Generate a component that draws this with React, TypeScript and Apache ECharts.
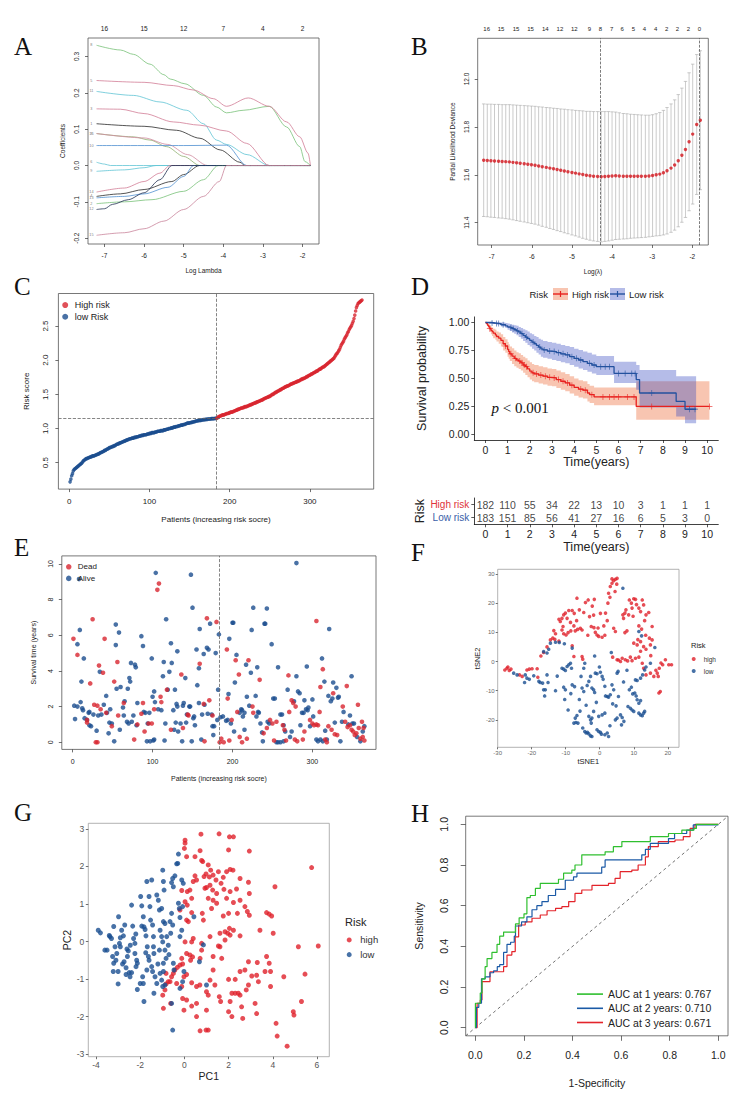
import React, { useEffect, useRef } from "react";
import * as echarts from "echarts";

const SANS = "'Liberation Sans', Arial, Helvetica, sans-serif";
const SERIF = "'Liberation Serif', 'Times New Roman', serif";

// ---------------- Panel A: LASSO coefficient paths ----------------
const aTopPos = [-7, -6, -5, -4, -3, -2];
const aTopLab = [16, 15, 12, 7, 4, 2];
const coefColors = ["#79c179", "#d27c96", "#5fc4d4", "#d27c96", "#2a2a2a", "#8fb070", "#d08aa0", "#4f8fd0",
  "#5fc4d4", "#5fc4d4", "#d27c96", "#2a2a2a", "#4f8fd0", "#79c179", "#1f2f50", "#c9849b"];
const coefIdx = ["8", "5", "11", "3", "1", "16", "7", "10", "6", "9", "14", "4", "13", "2", "12", "15"];
const coefLabelX = -7.33;
const coefPaths = [
  [[-7.2, 0.331], [-6.6, 0.318], [-6.27, 0.306], [-5.85, 0.279], [-5.5, 0.25], [-5.34, 0.238], [-4.97, 0.225], [-4.5, 0.193], [-4.17, 0.161], [-3.92, 0.145], [-3.5, 0.152], [-2.84, 0.163], [-2.4, 0.106], [-2.07, 0.052], [-1.94, 0.011], [-1.8, 0]],
  [[-7.2, 0.234], [-6.0, 0.229], [-5.26, 0.22], [-4.76, 0.208], [-4.25, 0.184], [-3.92, 0.163], [-3.37, 0.186], [-2.84, 0.163], [-2.4, 0.12], [-2.07, 0.079], [-1.86, 0.034], [-1.8, 0]],
  [[-7.2, 0.204], [-6.27, 0.193], [-5.6, 0.175], [-4.92, 0.152], [-4.5, 0.115], [-4.17, 0.07], [-3.92, 0.058], [-3.4, 0.03], [-2.84, 0], [-1.8, 0]],
  [[-7.2, 0.156], [-6.6, 0.155], [-6.0, 0.143], [-5.26, 0.12], [-4.59, 0.111], [-3.92, 0.095], [-3.41, 0.061], [-2.84, 0], [-1.8, 0]],
  [[-7.2, 0.115], [-6.0, 0.108], [-5.18, 0.097], [-4.59, 0.075], [-4.08, 0.043], [-3.58, 0.009], [-3.45, 0], [-1.8, 0]],
  [[-7.2, 0.088], [-6.27, 0.079], [-5.85, 0.07], [-5.43, 0.052], [-5.0, 0.025], [-4.59, 0], [-1.8, 0]],
  [[-7.2, 0.088], [-6.0, 0.076], [-5.4, 0.058], [-4.9, 0.03], [-4.4, 0], [-1.8, 0]],
  [[-7.2, 0.055], [-5.0, 0.055], [-3.92, 0.056], [-3.41, 0], [-1.8, 0]],
  [[-7.2, 0.009], [-7.0, 0.004], [-6.85, 0], [-1.8, 0]],
  [[-7.2, -0.016], [-6.5, -0.012], [-6.0, -0.006], [-5.7, 0], [-1.8, 0]],
  [[-7.2, -0.073], [-6.5, -0.062], [-6.0, -0.044], [-5.6, -0.021], [-5.35, 0], [-1.8, 0]],
  [[-7.2, -0.085], [-6.6, -0.078], [-6.0, -0.066], [-5.3, -0.044], [-5.0, -0.025], [-4.6, 0], [-1.8, 0]],
  [[-7.2, -0.089], [-6.5, -0.085], [-6.0, -0.078], [-5.4, -0.06], [-5.0, -0.03], [-4.75, 0], [-1.8, 0]],
  [[-7.2, -0.105], [-6.5, -0.1], [-5.8, -0.094], [-5.0, -0.071], [-4.5, -0.039], [-4.13, 0], [-1.8, 0]],
  [[-7.2, -0.121], [-7.0, -0.119], [-6.8, -0.107], [-6.4, -0.094], [-6.0, -0.075], [-5.6, -0.039], [-5.3, 0], [-1.8, 0]],
  [[-7.2, -0.192], [-6.5, -0.185], [-6.0, -0.174], [-5.5, -0.153], [-5.0, -0.121], [-4.5, -0.085], [-4.1, -0.044], [-3.92, 0], [-1.8, 0]],
];

// ---------------- Panel B: cross-validation ----------------
const lambdaB = [-7.20, -7.11, -7.02, -6.93, -6.83, -6.74, -6.65, -6.56, -6.47, -6.38, -6.29, -6.19, -6.10, -6.01, -5.92,
  -5.83, -5.74, -5.64, -5.55, -5.46, -5.37, -5.28, -5.19, -5.10, -5.00, -4.91, -4.82, -4.73, -4.64, -4.55, -4.46, -4.36,
  -4.27, -4.18, -4.09, -4.00, -3.91, -3.82, -3.72, -3.63, -3.54, -3.45, -3.36, -3.27, -3.17, -3.08, -2.99, -2.90, -2.81,
  -2.72, -2.63, -2.53, -2.44, -2.35, -2.26, -2.17, -2.08, -1.99, -1.89, -1.80];
const cvmB = [11.661, 11.660, 11.659, 11.658, 11.657, 11.656, 11.655, 11.654, 11.652, 11.650, 11.648, 11.646, 11.644,
  11.642, 11.640, 11.637, 11.634, 11.631, 11.628, 11.625, 11.622, 11.619, 11.616, 11.613, 11.610, 11.607, 11.604, 11.601,
  11.598, 11.596, 11.594, 11.593, 11.592, 11.593, 11.594, 11.595, 11.596, 11.595, 11.594, 11.594, 11.594, 11.594, 11.594,
  11.594, 11.594, 11.595, 11.597, 11.600, 11.603, 11.609, 11.617, 11.628, 11.641, 11.659, 11.682, 11.706, 11.738, 11.770,
  11.810, 11.828];
const cvsdB = [0.235, 0.235, 0.236, 0.236, 0.237, 0.237, 0.238, 0.239, 0.240, 0.241, 0.242, 0.243, 0.244, 0.245, 0.246,
  0.247, 0.249, 0.250, 0.252, 0.253, 0.255, 0.256, 0.258, 0.259, 0.261, 0.262, 0.264, 0.266, 0.267, 0.269, 0.270, 0.271,
  0.272, 0.271, 0.270, 0.268, 0.266, 0.264, 0.262, 0.261, 0.259, 0.258, 0.257, 0.256, 0.255, 0.254, 0.254, 0.255, 0.257,
  0.260, 0.264, 0.268, 0.272, 0.276, 0.280, 0.284, 0.288, 0.292, 0.292, 0.290];
const bTopPos = [-7.125, -6.767, -6.393, -6.03, -5.664, -5.299, -4.94, -4.566, -4.292, -4.01, -3.745, -3.47, -3.196, -2.914, -2.64, -2.37, -2.096, -1.82];
const bTopLab = [16, 15, 15, 15, 14, 12, 12, 9, 8, 7, 6, 5, 4, 4, 2, 2, 2, 0];
const bLambdaMin = -4.29;
const bLambda1se = -1.82;

// ---------------- Panel C: risk score ----------------
const riskLow = [
  0.22, 0.26, 0.31, 0.34, 0.38, 0.40, 0.41, 0.42, 0.43, 0.44,
  0.45, 0.46, 0.47, 0.48, 0.49, 0.50, 0.52, 0.53, 0.54, 0.55,
  0.56, 0.56, 0.57, 0.57, 0.58, 0.58, 0.59, 0.59, 0.60, 0.60,
  0.60, 0.61, 0.61, 0.62, 0.62, 0.63, 0.63, 0.64, 0.65, 0.65,
  0.66, 0.66, 0.67, 0.68, 0.68, 0.69, 0.70, 0.70, 0.71, 0.72,
  0.72, 0.73, 0.73, 0.74, 0.74, 0.75, 0.75, 0.76, 0.77, 0.77,
  0.78, 0.78, 0.79, 0.79, 0.80, 0.80, 0.81, 0.81, 0.82, 0.82,
  0.83, 0.83, 0.84, 0.84, 0.85, 0.85, 0.85, 0.86, 0.86, 0.86,
  0.87, 0.87, 0.87, 0.88, 0.88, 0.88, 0.89, 0.89, 0.89, 0.90,
  0.90, 0.90, 0.91, 0.91, 0.91, 0.91, 0.92, 0.92, 0.92, 0.93,
  0.93, 0.93, 0.94, 0.94, 0.94, 0.94, 0.95, 0.95, 0.95, 0.96,
  0.96, 0.96, 0.96, 0.97, 0.97, 0.97, 0.97, 0.98, 0.98, 0.98,
  0.99, 0.99, 0.99, 1.00, 1.00, 1.00, 1.01, 1.01, 1.01, 1.02,
  1.02, 1.02, 1.03, 1.03, 1.03, 1.04, 1.04, 1.04, 1.05, 1.05,
  1.05, 1.06, 1.06, 1.06, 1.07, 1.07, 1.08, 1.08, 1.08, 1.085,
  1.085, 1.09, 1.09, 1.095, 1.10, 1.10, 1.105, 1.11, 1.11, 1.115,
  1.115, 1.12, 1.12, 1.12, 1.125, 1.125, 1.13, 1.13, 1.13, 1.135,
  1.135, 1.135, 1.14, 1.14, 1.14, 1.14, 1.145, 1.145, 1.145, 1.145,
  1.147, 1.148, 1.149];
const riskHigh = [
  1.15, 1.16, 1.17, 1.18, 1.18, 1.19, 1.19,
  1.20, 1.20, 1.20, 1.21, 1.21, 1.22, 1.22, 1.22, 1.23, 1.23,
  1.24, 1.24, 1.24, 1.25, 1.25, 1.26, 1.26, 1.27, 1.27, 1.28,
  1.28, 1.29, 1.29, 1.30, 1.30, 1.30, 1.31, 1.31, 1.32, 1.32,
  1.32, 1.33, 1.33, 1.34, 1.34, 1.35, 1.35, 1.36, 1.36, 1.37,
  1.37, 1.38, 1.38, 1.39, 1.39, 1.40, 1.40, 1.41, 1.41, 1.42,
  1.42, 1.43, 1.44, 1.44, 1.45, 1.45, 1.46, 1.46, 1.47, 1.47,
  1.48, 1.49, 1.50, 1.50, 1.51, 1.52, 1.53, 1.53, 1.54, 1.55,
  1.55, 1.56, 1.57, 1.57, 1.58, 1.59, 1.59, 1.60, 1.61, 1.61,
  1.62, 1.62, 1.63, 1.63, 1.64, 1.65, 1.65, 1.66, 1.66, 1.67,
  1.67, 1.68, 1.68, 1.69, 1.69, 1.70, 1.70, 1.71, 1.72, 1.72,
  1.73, 1.73, 1.74, 1.74, 1.75, 1.76, 1.76, 1.77, 1.78, 1.78,
  1.79, 1.80, 1.80, 1.81, 1.82, 1.82, 1.83, 1.84, 1.84, 1.85,
  1.86, 1.87, 1.87, 1.88, 1.89, 1.90, 1.90, 1.91, 1.92, 1.93,
  1.94, 1.95, 1.96, 1.97, 1.98, 1.99, 2.00, 2.01, 2.02, 2.03,
  2.05, 2.07, 2.09, 2.10, 2.12, 2.14, 2.16, 2.19, 2.22, 2.24,
  2.26, 2.28, 2.31, 2.33, 2.35, 2.37, 2.40, 2.42, 2.45, 2.47,
  2.49, 2.51, 2.54, 2.57, 2.61, 2.66, 2.72, 2.77, 2.80, 2.83,
  2.84, 2.85, 2.86, 2.87, 2.88];
const riskCutoff = 1.149;
const riskCutIndex = 183.5;

// ---------------- Panel D: Kaplan-Meier ----------------
const highT = [0, 0.05, 0.1, 0.15, 0.2, 0.25, 0.3, 0.35, 0.45, 0.5, 0.6, 0.7, 0.8, 0.9, 1.0, 1.05, 1.1, 1.2, 1.3, 1.4, 1.5, 1.6, 1.7, 1.8, 1.9, 2.0, 2.1, 2.2, 2.4, 2.6, 2.8, 3.0, 3.2, 3.4, 3.6, 3.8, 4.0, 4.2, 4.4, 4.6, 4.7, 4.9, 6.8, 10.1];
const highS = [1.0, 0.99, 0.975, 0.96, 0.945, 0.93, 0.92, 0.905, 0.89, 0.875, 0.86, 0.84, 0.81, 0.79, 0.76, 0.74, 0.72, 0.70, 0.68, 0.665, 0.655, 0.64, 0.62, 0.605, 0.585, 0.565, 0.55, 0.54, 0.53, 0.52, 0.51, 0.505, 0.49, 0.475, 0.46, 0.44, 0.42, 0.405, 0.395, 0.37, 0.355, 0.335, 0.25, 0.25];
const highU = [1.0, 1.0, 0.99, 0.985, 0.975, 0.965, 0.955, 0.945, 0.935, 0.92, 0.91, 0.895, 0.87, 0.85, 0.825, 0.805, 0.785, 0.77, 0.75, 0.735, 0.725, 0.71, 0.695, 0.68, 0.66, 0.645, 0.63, 0.62, 0.61, 0.60, 0.59, 0.585, 0.57, 0.555, 0.54, 0.52, 0.50, 0.485, 0.475, 0.45, 0.435, 0.42, 0.475, 0.475];
const highL = [1.0, 0.975, 0.955, 0.935, 0.915, 0.895, 0.88, 0.86, 0.845, 0.83, 0.81, 0.785, 0.75, 0.73, 0.695, 0.675, 0.655, 0.63, 0.61, 0.595, 0.585, 0.57, 0.55, 0.53, 0.51, 0.49, 0.475, 0.465, 0.455, 0.445, 0.435, 0.43, 0.415, 0.40, 0.385, 0.365, 0.345, 0.33, 0.32, 0.295, 0.28, 0.26, 0.13, 0.13];
const lowT = [0, 0.3, 0.5, 0.7, 0.9, 1.0, 1.1, 1.2, 1.3, 1.4, 1.5, 1.6, 1.7, 1.8, 1.9, 2.0, 2.1, 2.2, 2.3, 2.4, 2.5, 2.6, 2.8, 3.0, 3.2, 3.4, 3.6, 3.8, 4.0, 4.2, 4.4, 4.6, 4.8, 5.0, 5.8, 6.8, 6.95, 8.6, 9.0, 9.5];
const lowS = [1.0, 0.995, 0.99, 0.98, 0.97, 0.96, 0.955, 0.945, 0.935, 0.925, 0.915, 0.90, 0.885, 0.87, 0.855, 0.84, 0.825, 0.81, 0.795, 0.78, 0.765, 0.755, 0.745, 0.74, 0.73, 0.72, 0.71, 0.695, 0.68, 0.665, 0.65, 0.635, 0.62, 0.605, 0.545, 0.49, 0.37, 0.295, 0.225, 0.225];
const lowU = [1.0, 1.0, 1.0, 1.0, 0.995, 0.99, 0.985, 0.98, 0.975, 0.97, 0.96, 0.95, 0.94, 0.93, 0.92, 0.905, 0.895, 0.88, 0.87, 0.855, 0.845, 0.835, 0.825, 0.82, 0.81, 0.80, 0.79, 0.78, 0.765, 0.755, 0.74, 0.73, 0.715, 0.70, 0.65, 0.62, 0.575, 0.52, 0.52, 0.52];
const lowL = [1.0, 0.99, 0.98, 0.965, 0.95, 0.935, 0.925, 0.91, 0.9, 0.885, 0.87, 0.855, 0.835, 0.82, 0.80, 0.785, 0.765, 0.75, 0.73, 0.715, 0.695, 0.685, 0.675, 0.665, 0.655, 0.645, 0.635, 0.62, 0.605, 0.59, 0.575, 0.56, 0.545, 0.53, 0.46, 0.40, 0.24, 0.16, 0.10, 0.10];
const highCens = [0.2, 0.9, 1.15, 1.35, 1.55, 1.65, 1.75, 1.85, 2.15, 2.3, 2.5, 2.7, 2.9, 3.1, 3.3, 3.5, 3.7, 3.9, 4.3, 4.5, 4.8, 5.3, 5.6, 5.8, 6.0, 6.4, 6.7, 7.5, 10.1];
const lowCens = [0.3, 0.5, 0.6, 0.8, 1.15, 1.25, 1.45, 1.65, 1.85, 2.15, 2.45, 2.65, 2.9, 3.1, 3.3, 3.5, 3.7, 3.9, 4.1, 4.3, 4.7, 4.9, 5.2, 5.4, 5.6, 6.0, 6.3, 6.6, 6.75, 7.5, 9.2, 9.45];
const tableTimes = [0, 1, 2, 3, 4, 5, 6, 7, 8, 9, 10];
const highN = [182, 110, 55, 34, 22, 13, 10, 3, 1, 1, 1];
const lowN = [183, 151, 85, 56, 41, 27, 16, 6, 5, 3, 0];

// ---------------- Panel E: survival status ----------------
const deadE = [[1, 5.8], [6, 4.9], [18, 1.25], [18, 1.1], [22, 3.3], [25, 6.9], [27, 2.1], [29, 0], [31, 0], [31, 2.05], [33, 4.3], [35, 1.85], [38, 3.9], [40, 5.8], [42, 1.65], [49, 0.9], [52, 3.4], [56, 4.5], [57, 1.5], [64, 2.2], [77, 0.15], [81, 1.0], [86, 1.6], [88, 2.2], [90, 0.6], [95, 1.05], [99, 1.05], [102, 1.85], [106, 8.55], [108, 8.9], [110, 2.55], [111, 2.25], [118, 2.95], [123, 0.7], [136, 3.8], [138, 0.8], [144, 1.55], [145, 1.5], [159, 4.4], [164, 2.15], [165, 0.05], [168, 6.95], [171, 2.35], [175, 1.5], [180, 6.75], [184, 0], [186, 0.2], [189, 0], [193, 5.2], [194, 2.45], [196, 0.1], [199, 1.25], [204, 4.6], [206, 1.7], [208, 3.8], [209, 0.3], [212, 0], [218, 0.2], [220, 4.6], [225, 2.0], [226, 1.65], [234, 3.5], [239, 0.5], [243, 0.8], [247, 1.25], [250, 1.05], [252, 0.1], [255, 1.15], [263, 0.95], [265, 0.7], [267, 0.1], [270, 3.75], [271, 1.7], [274, 2.35], [276, 2.2], [278, 0.15], [279, 2.0], [281, 0.05], [288, 0.15], [290, 0.6], [297, 1.25], [300, 1.05], [302, 0.95], [305, 1.0], [305, 6.8], [307, 0.95], [309, 1.7], [310, 3.1], [313, 4.1], [316, 0.15], [318, 0], [320, 0.9], [324, 0.7], [326, 2.75], [328, 0.45], [331, 0.4], [338, 2.0], [341, 1.15], [343, 3.15], [344, 0.85], [347, 0.95], [349, 0.7], [351, 0.6], [353, 0.4], [355, 0.5], [357, 2.1], [358, 0.8], [360, 0.2], [362, 1.15], [363, 0.3], [364, 0.8], [365, 0.1]];
const aliveE = [[2, 2.05], [6, 2.0], [3, 1.3], [6, 5.5], [8, 9.15], [9, 6.3], [10, 2.25], [11, 3.4], [12, 1.9], [13, 1.8], [14, 4.7], [15, 1.35], [18, 1.25], [20, 1.65], [21, 1.7], [21, 0.95], [23, 0.9], [26, 1.55], [30, 0.65], [32, 1.5], [34, 3.95], [36, 1.55], [39, 2.1], [42, 2.6], [43, 1.65], [45, 0.5], [47, 1.85], [46, 1.1], [49, 1.05], [52, 0.05], [54, 6.6], [54, 5.45], [55, 3.0], [58, 6.15], [59, 0.7], [60, 3.1], [63, 1.95], [64, 1.5], [65, 2.3], [68, 1.15], [70, 1.05], [69, 3.0], [71, 3.6], [72, 3.4], [73, 4.45], [74, 1.15], [76, 1.5], [78, 4.35], [79, 4.2], [80, 0.95], [81, 2.2], [86, 5.95], [88, 5.4], [89, 1.7], [91, 1.65], [93, 0.05], [94, 1.05], [96, 1.65], [97, 0.05], [99, 4.7], [100, 2.55], [101, 0.1], [102, 0.15], [103, 2.25], [104, 9.5], [102, 2.85], [107, 1.85], [111, 1.8], [113, 3.7], [114, 4.5], [115, 0.1], [116, 1.05], [117, 6.9], [119, 2.95], [121, 3.95], [123, 5.55], [124, 4.45], [126, 1.8], [127, 0.7], [128, 2.95], [129, 1.1], [130, 2.15], [131, 2.0], [131, 5.1], [132, 0.6], [135, 1.05], [137, 0.05], [138, 2.05], [139, 2.2], [141, 3.6], [142, 1.1], [143, 1.55], [146, 2.0], [147, 2.0], [148, 9.4], [149, 0.05], [150, 7.55], [151, 1.35], [152, 1.45], [153, 0.95], [155, 5.2], [156, 3.2], [158, 2.2], [158, 4.15], [159, 6.35], [161, 0.15], [162, 1.55], [164, 4.95], [165, 2.1], [168, 5.3], [169, 1.6], [170, 5.2], [172, 6.65], [174, 1.55], [175, 0.9], [176, 0.4], [177, 0.9], [179, 5.0], [181, 1.25], [182, 2.95], [183, 6.05], [185, 1.4], [188, 1.45], [192, 1.2], [194, 1.25], [195, 2.7], [196, 5.8], [198, 1.05], [200, 6.7], [201, 6.7], [202, 0.6], [203, 3.35], [205, 4.9], [209, 1.65], [211, 1.85], [212, 1.8], [213, 1.45], [215, 1.65], [215, 0.7], [217, 4.35], [218, 2.55], [221, 2.05], [223, 3.9], [224, 6.3], [226, 7.55], [229, 2.6], [230, 1.45], [232, 1.7], [233, 1.65], [231, 4.2], [235, 1.05], [237, 0.55], [238, 0.05], [240, 6.65], [241, 6.65], [243, 7.5], [244, 1.15], [246, 1.05], [249, 5.5], [251, 2.45], [253, 2.45], [255, 0], [257, 0], [260, 0], [257, 4.2], [260, 1.55], [262, 1.55], [264, 0.95], [264, 0.05], [266, 0.6], [269, 2.95], [272, 0.3], [274, 0.6], [277, 2.3], [280, 3.7], [280, 10.05], [282, 2.85], [284, 2.75], [285, 0.95], [287, 1.65], [289, 1.65], [290, 2.35], [292, 1.85], [294, 1.8], [293, 4.25], [295, 1.95], [297, 0.9], [300, 2.4], [301, 1.45], [305, 0.15], [307, 0.05], [310, 0.15], [313, 0.05], [312, 4.7], [315, 3.4], [316, 0.65], [318, 0.15], [320, 2.6], [321, 6.35], [323, 2.3], [325, 2.45], [326, 3.35], [328, 1.1], [330, 3.05], [332, 2.5], [333, 2.55], [335, 0.05], [337, 1.15], [339, 1.7], [345, 1.0], [347, 1.5], [349, 3.7], [350, 1.05], [352, 1.05], [356, 0.3], [360, 0.05], [363, 0.6], [365, 0.9]];
const eCutIndex = 183;

// ---------------- Panel F: t-SNE ----------------
const tsneHigh = [[-27.9, -2.9], [-27.3, -2.3], [-26.6, -3.1], [-27, -1.9], [-26.1, -2.6], [-23.6, -4.6], [-22.8, -5.1], [-21.4, -2.9], [-20.7, -2.6], [-19.9, -2.5], [-18.4, -2.5], [-18.2, -5.4], [-17.3, 1.9], [-16.5, 3.1], [-14.5, 7.4], [-13.8, 8.0], [-13.2, 7.6], [-13.5, 10.6], [-13, 9.5], [-11.6, 13.7], [-11.1, 14.8], [-10.6, 16], [-10.1, 16.6], [-9.6, 14.8], [-9.1, 17.5], [-11.1, 10.8], [-10.6, 9.5], [-9.9, 9.1], [-9.3, 9.9], [-8.6, 13.4], [-8.1, 17.5], [-7.6, 12.2], [-7.2, 10.5], [-6.7, 21.7], [-6, 17.7], [-5.7, 11.4], [-5.2, 10.8], [-4.7, 16.8], [-4.2, 20.2], [-3.4, 21.1], [-3, 15.4], [-1.6, 21.3], [-1.8, 15.9], [-1.7, 11.6], [-1.3, 10], [-0.8, 9.1], [-0.3, 8.6], [0.7, 8.3], [1.2, 12.2], [1.7, 16.6], [2.4, 20], [2.6, 23.4], [3.1, 25.7], [3.6, 26.8], [4.1, 27.7], [4.6, 28.2], [5.1, 28.5], [3.6, 28.3], [4.1, 11.4], [4.6, 10.3], [6.8, 16], [7.4, 16.6], [7.7, 17.7], [7, 14.8], [7.4, 9.9], [8, 10.5], [8.7, 21.1], [9.3, 20], [9.5, 18.3], [10, 21.5], [10.5, 21.3], [11.5, 18.3], [12, 17.1], [12.5, 21.1], [12.9, 19.4], [13.6, 16], [14.4, 16.8], [11.5, 12.2], [12.3, 11.1], [10, 6.3], [11, 5.7], [12, 6.8], [12.9, 5.1], [13.6, 4.2], [14.6, 8], [14.9, 5.7], [15.4, 7.4], [15.4, 12], [6.6, 1.1], [7.5, 0.6], [8.2, 0.2], [9, 1.5], [10.5, 1.1], [11.5, 1.5], [12.5, -0.6], [12.9, -2.3], [13.6, -4.6], [14.9, -4], [15.9, -5.1], [16.9, -4], [17.5, -2.3], [18.5, -1.1], [19.3, 0.6], [20.3, -1.1], [21.1, -1.1], [17.2, -5.1], [17.8, -10.3], [17.4, -10.8], [-8.1, 5.4], [-7.6, 1.7], [-5.2, 1.7], [-5, 0.8], [3.8, 1.5], [5.1, 0.6], [6.1, 0], [-12, 14.5], [-10.8, 12], [-8.5, 10.5], [-6.5, 11], [-2.5, 12], [-0.5, 11.5], [0.2, 16.5], [3, 22], [4.5, 24], [5, 26.5], [8.5, 16], [9.8, 15.5], [10.8, 19.5], [13.2, 14], [11.2, 7.5], [13.5, 9], [16.5, -3], [18, -0.5], [-15.5, 5], [-12, 7], [9.5, 0.3], [5.5, 0.5], [-3.5, 9], [1.5, 9], [2.2, 14], [-6.8, 14], [-7.5, 16.5], [-2.2, 19], [12, 3.5], [15, 2]];
const tsneLow = [[-25.3, -4], [-24.3, -4.6], [-21.9, -4.6], [-21.4, -5.7], [-22.1, -7.2], [-20.7, -6.1], [-19.4, -4.9], [-17.9, -6.8], [-17.5, -7.2], [-16.8, -7.4], [-16.5, -9.7], [-16.2, -11.8], [-16, -9.7], [-15.5, -4.6], [-15.2, -7.2], [-16.5, 3.4], [-15.5, 2.9], [-15, 4.2], [-14.5, 6.3], [-13, 6.6], [-11.9, 6.5], [-11.1, -2.3], [-10.6, -2.6], [-10.1, -3.1], [-9.6, -1.7], [-9.1, -1.1], [-8.6, -0.6], [-8.3, -2.3], [-10.4, 6.1], [-10.6, -8.8], [-10.1, -9.7], [-10.3, -13], [-9.3, -16.6], [-8.1, -8], [-7.4, -8.6], [-8.1, 4.6], [-7.2, -19.4], [-6.7, -18.5], [-7, -20.9], [-6.4, -21.1], [-7.6, -21.1], [-5.5, -5.1], [-5.2, -9.1], [-4.7, -10.3], [-4.4, -0.6], [-4.7, -2.3], [-5, -22.8], [-4.4, -24], [-4, -24.5], [-3.6, -24.3], [-3.2, -24.8], [-2.7, -25.5], [-2.3, -25.7], [-3.2, -18.8], [-2.7, -20], [-2.3, -19.4], [-1.8, -17.1], [-2.5, -21.1], [-3.7, -8.2], [-3.2, -6.8], [-2.7, -5.1], [-2.3, -9.1], [-1.8, -9.7], [-1.5, -10.6], [-1.5, 1.9], [-1.3, -4], [-0.8, -4.2], [-0.1, -1.9], [0.2, -3.7], [0.7, -5.1], [1, -6.1], [-0.8, -23.4], [-0.3, -24], [0.2, -24.3], [0.5, -24.9], [1.5, -25.1], [2.2, -24.5], [2.6, -25.7], [-0.3, -18.8], [0.7, -18.3], [1.5, -17.7], [1.7, -11.8], [2.2, -12], [2.6, -12.2], [3.1, -11.4], [3.6, -8], [4.1, -9.7], [3.8, -14.5], [3.4, 3.1], [4.6, -20], [5.1, -19.4], [6.1, -18.3], [6.6, -19.2], [7.1, -20.5], [6.4, -21.7], [5.1, -4], [5.4, -3.4], [4.8, -15.2], [6.8, 25.1], [8.7, -9.7], [9.3, -8.8], [9.7, -11.1], [10.3, -10.8], [10.7, -11.8], [11, -13.1], [11.5, -14.3], [8.3, -15.4], [9, -16], [9.5, -16.6], [10, -17.1], [11.5, -17.7], [12, -18.3], [12.5, -18.6], [12.9, -17.7], [13.2, -17.1], [10.5, -6.3], [11, -6.5], [12, -5.7], [12.6, -4.6], [13.2, -2.9], [13.6, -1.9], [11.5, 10.3], [12.3, 8.8], [14.9, -0.6], [16.2, 4.8], [12, -13.4], [-12.5, -5], [-6, -13], [-8.5, -11], [-1, -14], [1.5, -8.5], [5.5, -12], [7, -7], [-13, -10], [-4, -15], [3, -22], [-5.8, -17], [8, -3]];

// ---------------- Panel G: PCA ----------------
const pcaHigh = [[0.03, 2.7], [0.03, 2.62], [0.0, 2.48], [0.1, 2.26], [0.48, 2.26], [0.75, 2.86], [0.78, 2.16], [0.83, 2.13], [0.71, 2.42], [1.08, 2.04], [1.19, 1.9], [1.16, 1.5], [1.57, 2.87], [1.54, 1.86], [2.04, 2.79], [2.22, 2.79], [2.0, 2.44], [2.07, 1.92], [2.2, 1.9], [1.91, 1.86], [1.76, 1.71], [2.94, 2.41], [2.9, 1.58], [2.94, 1.28], [2.36, 1.4], [2.07, 1.33], [1.91, 1.15], [1.28, 1.37], [1.46, 1.28], [0.13, 1.33], [0.25, 1.37], [0.33, 1.15], [0.03, 1.06], [0.13, 0.97], [0.4, 1.6], [0.48, 1.75], [0.55, 1.64], [0.89, 1.73], [0.93, 1.42], [1.0, 1.44], [1.08, 1.15], [1.3, 1.1], [1.23, 0.88], [1.46, 1.02], [0.81, 0.75], [0.86, 0.57], [0.1, 0.57], [0.18, 0.53], [0.33, 0.77], [-0.2, 0.84], [-0.12, 1.36], [1.76, 0.68], [2.0, 0.75], [2.22, 1.04], [2.4, 0.75], [2.52, 1.1], [2.74, 0.93], [2.94, 0.7], [2.85, 0.8], [1.84, 0.26], [1.96, 0.22], [2.04, 0.35], [2.07, 0.17], [2.22, 0.3], [2.52, 0.15], [1.61, 0.22], [1.84, 0.04], [1.54, -0.12], [1.61, -0.14], [0.78, -0.05], [0.78, -0.23], [0.71, -0.45], [0.4, 0.08], [0.33, -0.01], [0.37, -0.41], [0.03, -0.01], [0.1, -0.32], [0.25, -0.36], [0.28, -0.5], [-0.12, -0.45], [-0.08, -0.6], [-0.2, -0.63], [-0.32, -0.69], [-0.43, -0.76], [-0.5, -0.85], [-0.58, -0.94], [-0.65, -1.07], [-0.83, -0.85], [-0.73, -1.07], [-0.83, -1.13], [-0.88, -1.29], [-0.98, -1.43], [-0.95, -1.78], [-0.62, -1.65], [-0.35, -1.12], [-0.12, -1.2], [-0.02, -0.94], [0.1, -0.88], [-0.08, -1.52], [-0.02, -1.83], [0.1, -1.56], [0.33, -1.72], [0.55, -1.65], [0.33, -1.1], [0.55, -1.2], [0.7, -1.16], [1.0, -1.34], [1.08, -1.43], [1.0, -1.83], [0.98, -2.36], [1.08, -2.36], [0.71, -2.38], [0.55, -2.0], [1.58, -1.47], [1.64, -1.6], [1.69, -0.45], [1.3, -0.76], [1.16, -1.03], [1.38, -1.16], [2.0, -1.01], [2.07, -1.6], [2.0, -1.87], [2.15, -2.0], [2.3, -1.01], [2.52, -0.8], [2.74, -0.76], [2.15, -1.38], [2.3, -1.38], [2.44, -1.38], [2.52, -1.43], [2.59, -1.74], [2.64, -2.05], [2.8, -1.29], [2.9, -1.16], [3.05, -0.92], [2.9, -0.54], [3.3, -0.56], [3.27, -0.9], [3.35, -1.07], [3.2, -1.65], [3.27, -1.92], [3.42, 0.3], [3.72, 0.77], [3.84, 0.73], [3.95, 0.68], [4.02, 0.22], [3.72, -0.4], [3.84, -0.58], [3.9, -0.8], [3.65, -0.8], [3.9, -1.2], [4.1, 1.46], [4.5, -0.94], [4.15, -2.18], [4.2, -2.52], [4.65, -2.79], [4.93, -1.87], [4.96, -1.96], [5.16, -0.14], [5.3, -1.6], [5.46, -0.87], [5.76, 1.97], [6.06, -0.12], [1.16, 0.13], [1.3, -0.4], [0.98, 1.8], [1.13, 1.72], [1.3, 1.77], [1.43, 1.64], [1.66, 1.55], [1.79, 1.39], [2.52, 1.68]];
const pcaLow = [[-3.9, 0.3], [-3.8, 0.23], [-3.6, -0.23], [-3.5, -0.23], [-3.4, 0.16], [-3.37, 0.13], [-3.3, 0.08], [-3.25, -0.4], [-3.2, -0.58], [-3.22, -0.8], [-3.0, -0.8], [-3.0, -1.13], [-2.98, 0.66], [-2.94, -0.05], [-2.9, -0.14], [-3.2, 0.4], [-3.14, -0.14], [-3.06, -0.32], [-2.84, 0.3], [-2.76, 0.15], [-2.7, 0.44], [-2.6, -0.2], [-2.54, -0.25], [-2.58, -0.4], [-2.73, -0.54], [-2.64, -0.7], [-2.5, -0.83], [-2.64, -0.88], [-2.46, -0.94], [-2.39, -0.83], [-2.39, 0.97], [-2.34, 0.41], [-2.3, 0.08], [-2.24, -0.05], [-2.24, -0.32], [-2.16, -0.5], [-2.13, -0.58], [-2.19, -0.67], [-2.13, -1.28], [-2.0, -1.12], [-1.89, -0.94], [-1.98, 1.2], [-1.93, 0.95], [-1.86, 0.66], [-1.93, 0.41], [-1.83, 0.39], [-1.78, 0.32], [-1.74, 0.15], [-1.7, 1.6], [-1.68, -0.14], [-1.63, -0.4], [-1.7, -0.76], [-1.86, -1.12], [-1.83, -1.6], [-1.6, 1.2], [-1.56, 0.93], [-1.48, 1.64], [-1.53, 0.57], [-1.44, 0.44], [-1.4, 0.13], [-1.4, -0.14], [-1.38, -0.32], [-1.48, -0.67], [-1.44, -0.8], [-1.33, -0.94], [-1.25, -1.12], [-1.38, -1.38], [-1.25, 1.24], [-1.18, 1.1], [-1.13, 0.84], [-1.1, 0.3], [-1.03, 0.13], [-1.13, -0.23], [-0.98, 1.9], [-0.95, 1.6], [-0.92, 1.37], [-1.03, 0.88], [-0.95, 0.53], [-0.88, 0.48], [-0.98, -0.01], [-0.88, -0.23], [-0.83, -0.45], [-0.95, -0.58], [-0.95, -0.8], [-1.03, -1.03], [-0.98, -1.2], [-0.88, -1.16], [-0.8, 0.13], [-0.73, -0.1], [-0.65, 0.53], [-0.62, 0.22], [-0.58, 1.57], [-0.53, 1.68], [-0.5, 1.46], [-0.58, 0.75], [-0.53, 0.44], [-0.5, -0.58], [-0.47, -0.76], [-0.43, 1.75], [-0.35, 2.07], [-0.3, 2.08], [-0.27, 2.33], [-0.27, 1.02], [-0.23, 0.88], [-0.2, 0.64], [-0.12, 0.3], [-0.2, 0.13], [-0.08, 0.93], [-0.12, 1.64], [-0.05, 1.55], [-0.08, -1.07], [-0.2, -1.25], [-0.53, -2.36], [-0.58, -1.65], [1.0, -1.16], [0.86, -0.09], [0.68, -0.54], [0.43, 0.66], [-0.02, -0.8], [-2.8, -0.6], [-2.2, 0.2], [-1.6, -0.5], [-1.2, -0.6], [-2.9, 0.1], [-3.1, -0.5], [-2.45, -0.1], [-1.75, -0.3], [-0.7, -0.35], [-1.1, -0.85]];

// ---------------- Panel H: time-dependent ROC ----------------
const roc1 = [[0, 0], [0, 0.12], [0.02, 0.17], [0.027, 0.24], [0.04, 0.3], [0.048, 0.34], [0.068, 0.37], [0.089, 0.41], [0.1, 0.45], [0.116, 0.47], [0.15, 0.47], [0.165, 0.51], [0.18, 0.54], [0.2, 0.56], [0.212, 0.64], [0.226, 0.65], [0.247, 0.685], [0.267, 0.71], [0.315, 0.71], [0.342, 0.73], [0.363, 0.76], [0.397, 0.775], [0.41, 0.8], [0.438, 0.85], [0.534, 0.865], [0.568, 0.89], [0.603, 0.915], [0.712, 0.915], [0.72, 0.94], [0.795, 0.955], [0.842, 0.955], [0.85, 0.972], [0.9, 0.98], [0.91, 1.0], [1, 1]];
const roc2 = [[0, 0], [0.004, 0.1], [0.014, 0.12], [0.025, 0.24], [0.04, 0.25], [0.06, 0.27], [0.075, 0.28], [0.09, 0.3], [0.1, 0.31], [0.116, 0.37], [0.13, 0.41], [0.145, 0.42], [0.16, 0.45], [0.165, 0.5], [0.19, 0.52], [0.212, 0.545], [0.233, 0.58], [0.253, 0.6], [0.274, 0.62], [0.3, 0.65], [0.33, 0.68], [0.37, 0.725], [0.404, 0.742], [0.418, 0.76], [0.486, 0.76], [0.52, 0.79], [0.534, 0.825], [0.65, 0.825], [0.685, 0.85], [0.7, 0.877], [0.72, 0.906], [0.795, 0.93], [0.82, 0.955], [0.87, 0.972], [0.897, 0.997], [1, 1]];
const roc3 = [[0, 0], [0.007, 0.12], [0.02, 0.136], [0.027, 0.226], [0.048, 0.226], [0.06, 0.275], [0.09, 0.275], [0.116, 0.3], [0.13, 0.357], [0.15, 0.374], [0.164, 0.447], [0.178, 0.505], [0.205, 0.52], [0.233, 0.538], [0.267, 0.554], [0.295, 0.575], [0.33, 0.587], [0.356, 0.595], [0.384, 0.62], [0.41, 0.66], [0.438, 0.677], [0.48, 0.7], [0.548, 0.71], [0.575, 0.734], [0.596, 0.767], [0.644, 0.775], [0.67, 0.8], [0.7, 0.84], [0.712, 0.89], [0.753, 0.915], [0.822, 0.923], [0.856, 0.94], [0.884, 0.98], [0.904, 1.0], [1, 1]];
const rocNames = ["AUC at 1 years: 0.767", "AUC at 2 years: 0.710", "AUC at 3 years: 0.671"];
const rocColors = ["#2fbf2f", "#1b5aa6", "#e3242b"];

// ---------------- colours ----------------
const RED = "#d8262f";
const BLUE = "#1b4d8e";
const KM_RED = "#e8201e";
const KM_BLUE = "#23519f";
const BAND_RED = "rgba(238,110,60,0.40)";
const BAND_BLUE = "rgba(50,70,190,0.36)";

function nearestLabel(pos: number[], lab: number[], v: number) {
  for (let i = 0; i < pos.length; i++) if (Math.abs(pos[i] - v) < 1e-6) return String(lab[i]);
  return "";
}

function survAt(times: number[], surv: number[], t: number) {
  let s = surv[0];
  for (let i = 0; i < times.length; i++) if (times[i] <= t) s = surv[i];
  return s;
}

function rAxis(kind: "x" | "y", gridIndex: number, min: number, max: number, ticks: number[], o: any) {
  return {
    type: "value", gridIndex, min, max,
    position: o.position || (kind === "x" ? "bottom" : "left"),
    axisLine: o.line ? { show: true, onZero: false, lineStyle: { color: "#111", width: 0.8 } } : { show: false, onZero: false },
    splitLine: { show: false },
    axisTick: o.noTick ? { show: false } : { show: true, inside: false, length: o.tickLen ?? 3, customValues: ticks, lineStyle: { color: o.tickColor || "#333", width: 0.7 } },
    axisLabel: { show: true, customValues: ticks, fontSize: o.fs, color: o.labelColor || "#222", margin: o.margin, fontFamily: SANS, formatter: o.fmt, rotate: o.rotate || 0 },
    name: o.name || "", nameLocation: "middle", nameGap: o.nameGap ?? 20, nameRotate: o.nameRotate,
    nameTextStyle: { fontSize: o.nameFs || o.fs, fontFamily: SANS, color: "#222" },
  };
}

function bandSeries(times: number[], lo: number[], hi: number[], color: string) {
  return {
    type: "custom", xAxisIndex: 5, yAxisIndex: 3, silent: true, z: 1,
    data: times.map((t, i) => [t, lo[i], hi[i]]),
    encode: { x: 0, y: [1, 2] },
    renderItem: (params: any, api: any) => {
      if (params.dataIndex !== 0) return null;
      const n = times.length;
      const pts: number[][] = [];
      for (let i = 0; i < n; i++) {
        const t2 = i < n - 1 ? times[i + 1] : times[i];
        pts.push(api.coord([times[i], hi[i]]), api.coord([t2, hi[i]]));
      }
      for (let i = n - 1; i >= 0; i--) {
        const t2 = i < n - 1 ? times[i + 1] : times[i];
        pts.push(api.coord([t2, lo[i]]), api.coord([times[i], lo[i]]));
      }
      return { type: "polygon", shape: { points: pts }, style: { fill: color } };
    },
  };
}

const PLUS = "path://M4.4,0L5.6,0L5.6,4.4L10,4.4L10,5.6L5.6,5.6L5.6,10L4.4,10L4.4,5.6L0,5.6L0,4.4L4.4,4.4Z";

function buildOption() {
  const boxR = { show: true, borderColor: "#555", borderWidth: 0.8, backgroundColor: "transparent" };
  const boxG = { show: true, borderColor: "#a0a0a0", borderWidth: 0.8, backgroundColor: "transparent" };
  const f1 = (v: number) => v.toFixed(1);

  const grid = [
    { left: 88, top: 38, width: 231, height: 206, ...boxR },          // A
    { left: 477.7, top: 38.3, width: 230.6, height: 206.7, ...boxR }, // B
    { left: 58.4, top: 293.5, width: 315.3, height: 195.6, ...boxR }, // C
    { left: 474.3, top: 316.9, width: 244, height: 123.1, show: false }, // D
    { left: 474.3, top: 498, width: 244, height: 26.3, show: false },  // D table
    { left: 61.8, top: 555.9, width: 314.2, height: 193.5, ...boxR }, // E
    { left: 497.7, top: 569.3, width: 181.3, height: 178, ...boxG },  // F
    { left: 88.3, top: 823.3, width: 241, height: 233.4, ...boxG },   // G
    { left: 465.7, top: 816.2, width: 262.3, height: 219.6, ...boxR }, // H
  ];

  const xAxis = [
    rAxis("x", 0, -7.416, -1.584, aTopPos, { fs: 6.5, margin: 8, name: "Log Lambda", nameGap: 23, nameFs: 6.5 }),
    rAxis("x", 0, -7.416, -1.584, aTopPos, { position: "top", noTick: true, fs: 6.5, margin: 6, fmt: (v: number) => nearestLabel(aTopPos, aTopLab, v) }),
    rAxis("x", 1, -7.349, -1.601, aTopPos, { fs: 6.5, margin: 8, name: "Log(\u03bb)", nameGap: 23, nameFs: 6.5 }),
    rAxis("x", 1, -7.349, -1.601, bTopPos, { position: "top", noTick: true, fs: 6, margin: 6, fmt: (v: number) => nearestLabel(bTopPos, bTopLab, v) }),
    rAxis("x", 2, -13.56, 379.56, [0, 100, 200, 300], { fs: 8, margin: 8, name: "Patients (increasing risk socre)", nameGap: 26, nameFs: 8 }),
    rAxis("x", 3, -0.5, 10.5, tableTimes, { line: true, fs: 10.5, margin: 4, labelColor: "#222", tickColor: "#111", name: "Time(years)", nameGap: 15, nameFs: 12.5 }),
    rAxis("x", 4, -0.5, 10.5, tableTimes, { line: true, fs: 10.5, margin: 4, labelColor: "#222", tickColor: "#111", name: "Time(years)", nameGap: 16, nameFs: 12.5 }),
    rAxis("x", 5, -13.56, 379.56, [0, 100, 200, 300], { fs: 7, margin: 9, name: "Patients (increasing risk socre)", nameGap: 26, nameFs: 7 }),
    rAxis("x", 6, -30, 23.3, [-30, -20, -10, 0, 10, 20], { fs: 6, margin: 3, tickLen: 2, labelColor: "#666", name: "tSNE1", nameGap: 10, nameFs: 7.5 }),
    rAxis("x", 7, -4.35, 6.56, [-4, -2, 0, 2, 4, 6], { fs: 8.5, margin: 4, tickLen: 2.5, labelColor: "#555", name: "PC1", nameGap: 13, nameFs: 10.5 }),
    rAxis("x", 8, -0.04, 1.04, [0, 0.2, 0.4, 0.6, 0.8, 1.0], { fs: 10.5, margin: 14, tickLen: 5, fmt: f1, name: "1-Specificity", nameGap: 42, nameFs: 10.5 }),
  ];

  const yAxis: any[] = [
    rAxis("y", 0, -0.216, 0.351, [-0.2, -0.1, 0, 0.1, 0.2, 0.3], { fs: 6.5, margin: 8, rotate: 90, fmt: f1, name: "Coefficients", nameGap: 22, nameRotate: 90, nameFs: 6.5 }),
    rAxis("y", 1, 11.307, 12.17, [11.4, 11.6, 11.8, 12.0], { fs: 6.5, margin: 8, rotate: 90, fmt: f1, name: "Partial Likelihood Deviance", nameGap: 22, nameRotate: 90, nameFs: 6.5 }),
    rAxis("y", 2, 0.114, 2.976, [0.5, 1.0, 1.5, 2.0, 2.5], { fs: 8, margin: 9, rotate: 90, fmt: f1, name: "Risk score", nameGap: 28, nameRotate: 90, nameFs: 8 }),
    rAxis("y", 3, -0.05, 1.05, [0, 0.25, 0.5, 0.75, 1.0], { line: true, fs: 10.5, margin: 5, tickColor: "#111", fmt: (v: number) => v.toFixed(2), name: "Survival probability", nameGap: 46, nameRotate: 90, nameFs: 12.5 }),
    {
      type: "category", gridIndex: 4, data: ["Low risk", "High risk"],
      axisLine: { show: true, onZero: false, lineStyle: { color: "#111", width: 0.8 } },
      axisTick: { show: true, alignWithLabel: true, length: 3, lineStyle: { color: "#111", width: 0.7 } },
      axisLabel: { fontSize: 10, margin: 5, fontFamily: SANS, color: (v: string) => (v === "High risk" ? "#e0343a" : "#3a5ea8") },
      name: "Risk", nameLocation: "middle", nameGap: 48, nameRotate: 90,
      nameTextStyle: { fontSize: 12.5, fontFamily: SANS, color: "#222" },
    },
    rAxis("y", 5, -0.402, 10.452, [0, 2, 4, 6, 8, 10], { fs: 7, margin: 8, rotate: 90, name: "Survival time (years)", nameGap: 25, nameRotate: 90, nameFs: 7 }),
    rAxis("y", 6, -29.4, 31.6, [-20, -10, 0, 10, 20, 30], { fs: 6, margin: 3, tickLen: 2, labelColor: "#666", name: "tSNE2", nameGap: 16, nameRotate: 90, nameFs: 7.5 }),
    rAxis("y", 7, -3.07, 3.15, [-3, -2, -1, 0, 1, 2, 3], { fs: 8.5, margin: 4, tickLen: 2.5, labelColor: "#555", name: "PC2", nameGap: 14, nameRotate: 90, nameFs: 10.5 }),
    rAxis("y", 8, -0.04, 1.04, [0, 0.2, 0.4, 0.6, 0.8, 1.0], { fs: 10.5, margin: 16, tickLen: 5, rotate: 90, fmt: f1, name: "Sensitivity", nameGap: 41, nameRotate: 90, nameFs: 10.5 }),
  ];

  const series: any[] = [];

  // A
  coefPaths.forEach((pts, k) => {
    series.push({ type: "line", xAxisIndex: 0, yAxisIndex: 0, data: pts, showSymbol: false, symbol: "none", smooth: 0.3, smoothMonotone: "x", silent: true, lineStyle: { color: coefColors[k], width: 0.8 } });
  });
  series.push({
    type: "scatter", xAxisIndex: 0, yAxisIndex: 0, silent: true, symbolSize: 0.1, itemStyle: { color: "rgba(0,0,0,0)" },
    data: coefPaths.map((pts, k) => [coefLabelX, pts[0][1], coefIdx[k]]),
    label: { show: true, position: "inside", fontSize: 3.8, fontFamily: SANS, color: "#555", formatter: (p: any) => p.value[2] },
    labelLayout: { hideOverlap: false },
  });

  // B
  series.push({
    type: "custom", xAxisIndex: 2, yAxisIndex: 1, silent: true, z: 1,
    data: lambdaB.map((l, i) => [l, cvmB[i] - cvsdB[i], cvmB[i] + cvsdB[i]]),
    encode: { x: 0, y: [1, 2] },
    renderItem: (params: any, api: any) => {
      const x = api.value(0), lo = api.value(1), hi = api.value(2);
      const a = api.coord([x, hi]), b = api.coord([x, lo]);
      const w = 1.7;
      const st = { stroke: "#a8a8a8", lineWidth: 0.6 };
      return {
        type: "group", children: [
          { type: "line", shape: { x1: a[0], y1: a[1], x2: b[0], y2: b[1] }, style: st },
          { type: "line", shape: { x1: a[0] - w, y1: a[1], x2: a[0] + w, y2: a[1] }, style: st },
          { type: "line", shape: { x1: b[0] - w, y1: b[1], x2: b[0] + w, y2: b[1] }, style: st },
        ],
      };
    },
  });
  series.push({
    type: "scatter", xAxisIndex: 2, yAxisIndex: 1, silent: true, z: 3,
    data: lambdaB.map((l, i) => [l, cvmB[i]]), symbolSize: 3.4, itemStyle: { color: "#d3141c" },
    markLine: { silent: true, symbol: ["none", "none"], label: { show: false }, lineStyle: { type: "dashed", color: "#444", width: 0.7 }, data: [{ xAxis: bLambdaMin }, { xAxis: bLambda1se }] },
  });

  // C
  series.push({
    type: "scatter", name: "low Risk", xAxisIndex: 4, yAxisIndex: 2, silent: true, symbolSize: 3.6, itemStyle: { color: BLUE },
    data: riskLow.map((v, i) => [i + 1, v]),
    markLine: { silent: true, symbol: ["none", "none"], label: { show: false }, lineStyle: { type: "dashed", color: "#666", width: 0.8 }, data: [{ xAxis: riskCutIndex }, { yAxis: riskCutoff }] },
  });
  series.push({
    type: "scatter", name: "High risk", xAxisIndex: 4, yAxisIndex: 2, silent: true, symbolSize: 3.6, itemStyle: { color: RED },
    data: riskHigh.map((v, i) => [riskLow.length + i + 1, v]),
  });

  // D
  series.push(bandSeries(highT, highL, highU, BAND_RED));
  series.push(bandSeries(lowT, lowL, lowU, BAND_BLUE));
  series.push({ type: "line", xAxisIndex: 5, yAxisIndex: 3, step: "end", showSymbol: false, symbol: "none", silent: true, z: 3, data: highT.map((t, i) => [t, highS[i]]), lineStyle: { color: KM_RED, width: 1.3 } });
  series.push({ type: "line", xAxisIndex: 5, yAxisIndex: 3, step: "end", showSymbol: false, symbol: "none", silent: true, z: 3, data: lowT.map((t, i) => [t, lowS[i]]), lineStyle: { color: KM_BLUE, width: 1.3 } });
  series.push({ type: "scatter", xAxisIndex: 5, yAxisIndex: 3, silent: true, z: 4, symbol: PLUS, symbolSize: 6, itemStyle: { color: KM_RED }, data: highCens.map((t) => [t, survAt(highT, highS, t)]) });
  series.push({ type: "scatter", xAxisIndex: 5, yAxisIndex: 3, silent: true, z: 4, symbol: PLUS, symbolSize: 6, itemStyle: { color: KM_BLUE }, data: lowCens.map((t) => [t, survAt(lowT, lowS, t)]) });

  // D table
  const tableLabel = { show: true, position: "inside", fontSize: 10.5, fontFamily: SANS, color: "#111", formatter: (p: any) => String(p.value[2]) };
  series.push({ type: "scatter", xAxisIndex: 6, yAxisIndex: 4, silent: true, symbolSize: 1, itemStyle: { color: "rgba(0,0,0,0)" }, label: tableLabel, data: tableTimes.map((t, i) => [t, "High risk", highN[i]]) });
  series.push({ type: "scatter", xAxisIndex: 6, yAxisIndex: 4, silent: true, symbolSize: 1, itemStyle: { color: "rgba(0,0,0,0)" }, label: tableLabel, data: tableTimes.map((t, i) => [t, "Low risk", lowN[i]]) });

  // E
  series.push({
    type: "scatter", name: "Alive", xAxisIndex: 7, yAxisIndex: 5, silent: true, symbolSize: 4.6, itemStyle: { color: BLUE }, data: aliveE,
    markLine: { silent: true, symbol: ["none", "none"], label: { show: false }, lineStyle: { type: "dashed", color: "#666", width: 0.8 }, data: [{ xAxis: eCutIndex }] },
  });
  series.push({ type: "scatter", name: "Dead", xAxisIndex: 7, yAxisIndex: 5, silent: true, symbolSize: 4.6, itemStyle: { color: RED }, data: deadE });

  // F
  series.push({ type: "scatter", name: "high", xAxisIndex: 8, yAxisIndex: 6, silent: true, symbolSize: 3.6, itemStyle: { color: "#e0202b" }, data: tsneHigh });
  series.push({ type: "scatter", name: "low", xAxisIndex: 8, yAxisIndex: 6, silent: true, symbolSize: 3.6, itemStyle: { color: "#1a4f91" }, data: tsneLow });

  // G
  series.push({ type: "scatter", name: "high", xAxisIndex: 9, yAxisIndex: 7, silent: true, symbolSize: 5, itemStyle: { color: "#e0202b" }, data: pcaHigh });
  series.push({ type: "scatter", name: "low", xAxisIndex: 9, yAxisIndex: 7, silent: true, symbolSize: 5, itemStyle: { color: "#1a4f91" }, data: pcaLow });

  // H
  series.push({ type: "line", xAxisIndex: 10, yAxisIndex: 8, silent: true, showSymbol: false, symbol: "none", data: [[-0.04, -0.04], [1.04, 1.04]], lineStyle: { color: "#333", width: 0.7, type: [3, 3] } });
  [roc1, roc2, roc3].forEach((d, k) => {
    series.push({ type: "line", name: rocNames[k], xAxisIndex: 10, yAxisIndex: 8, silent: true, step: "end", showSymbol: false, symbol: "none", color: rocColors[k], data: d, lineStyle: { color: rocColors[k], width: 1.2 }, z: 3 + (2 - k) });
  });

  const legendBase = { orient: "vertical", icon: "circle", itemGap: 0, padding: 0, selectedMode: false };
  const legend = [
    { ...legendBase, data: ["High risk", "low Risk"], left: 62.2, top: 299.2, itemWidth: 9, itemHeight: 6, textStyle: { fontSize: 9, fontFamily: SANS, color: "#222", lineHeight: 11.7 } },
    { ...legendBase, data: ["Dead", "Alive"], left: 66, top: 561, itemWidth: 8, itemHeight: 5.5, textStyle: { fontSize: 8, fontFamily: SANS, color: "#222", lineHeight: 11.6 } },
    { ...legendBase, data: ["high", "low"], left: 691.7, top: 653, itemWidth: 10, itemHeight: 4, textStyle: { fontSize: 6.5, fontFamily: SANS, color: "#333", lineHeight: 12 } },
    { ...legendBase, data: ["high", "low"], left: 346.7, top: 932.6, itemWidth: 12, itemHeight: 5, textStyle: { fontSize: 9.5, fontFamily: SANS, color: "#333", lineHeight: 14.7 } },
    { ...legendBase, icon: "rect", data: rocNames, left: 577, top: 987, itemWidth: 26, itemHeight: 1.6, textStyle: { fontSize: 10.5, fontFamily: SANS, color: "#222", lineHeight: 14.2 } },
  ];

  const letter = (t: string, x: number, y: number) => ({ type: "text", x, y, silent: true, style: { text: t, fontSize: 25, fontFamily: SERIF, fill: "#111", verticalAlign: "middle", align: "left" } });
  const txt = (t: string, x: number, y: number, fs: number, color = "#222", extra: any = {}) => ({ type: "text", x, y, silent: true, style: { text: t, fontSize: fs, fontFamily: SANS, fill: color, verticalAlign: "middle", align: "left", ...extra } });
  const legKey = (x: number, y: number, line: string, band: string) => [
    { type: "rect", silent: true, shape: { x, y: y - 6, width: 15, height: 12 }, style: { fill: band } },
    { type: "line", silent: true, shape: { x1: x, y1: y, x2: x + 15, y2: y }, style: { stroke: line, lineWidth: 1.4 } },
    { type: "line", silent: true, shape: { x1: x + 7.5, y1: y - 3, x2: x + 7.5, y2: y + 3 }, style: { stroke: line, lineWidth: 1.2 } },
  ];

  const graphic = [
    letter("A", 14, 46.5), letter("B", 411, 46.5), letter("C", 14, 286.5), letter("D", 411, 286.5),
    letter("E", 14, 547), letter("F", 411, 552), letter("G", 14, 812.5), letter("H", 411, 813.5),
    txt("Risk", 529.5, 294, 9.5),
    ...legKey(553, 294, KM_RED, BAND_RED),
    txt("High risk", 572, 294, 9.5),
    ...legKey(610, 294, KM_BLUE, BAND_BLUE),
    txt("Low risk", 629, 294, 9.5),
    {
      type: "text", x: 491.5, y: 408, silent: true,
      style: { text: "{i|p} < 0.001", fontSize: 15, fontFamily: SERIF, fill: "#111", verticalAlign: "middle", rich: { i: { fontStyle: "italic", fontSize: 15, fontFamily: SERIF } } },
    },
    txt("Risk", 691, 645.7, 7.5, "#222"),
    txt("Risk", 345, 922.3, 11, "#222"),
  ];

  return { animation: false, backgroundColor: "#fff", grid, xAxis, yAxis, series, legend, graphic };
}

export default function App() {
  const ref = useRef<HTMLDivElement | null>(null);
  useEffect(() => {
    if (!ref.current) return;
    const chart = echarts.init(ref.current, null, { renderer: "svg" });
    chart.setOption(buildOption() as any);
    return () => chart.dispose();
  }, []);
  return <div ref={ref} style={{ position: "absolute", left: 0, top: 0, width: 749, height: 1108, background: "#fff" }} />;
}
